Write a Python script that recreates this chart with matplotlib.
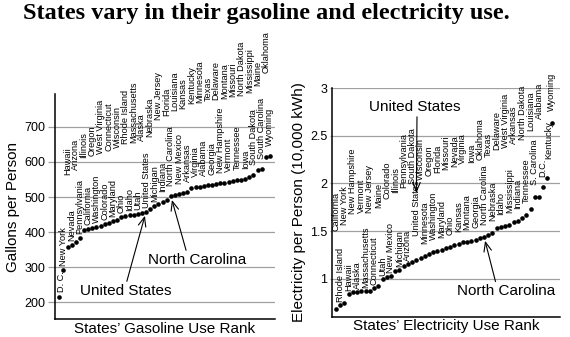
import matplotlib
matplotlib.use("Agg")
import matplotlib.pyplot as plt
from matplotlib import font_manager
import numpy as np

# Gasoline use per person (gallons), states ordered by rank
gas_states = [
    "D. C.", "New York", "Hawaii", "Nevada", "Arizona", "Pennsylvania",
    "Illinois", "California", "Oregon", "Washington", "West Virginia",
    "Colorado", "Connecticut", "Maryland", "Wisconsin", "Ohio",
    "Rhode Island", "Idaho", "Massachusetts", "Utah", "Alaska",
    "United States", "Nebraska", "Michigan", "New Jersey", "Indiana",
    "Florida", "North Carolina", "Louisiana", "New Mexico", "Kansas",
    "Arkansas", "Kentucky", "Virginia", "Minnesota", "Alabama", "Texas",
    "Georgia", "Delaware", "New Hampshire", "Montana", "Vermont",
    "Missouri", "Tennessee", "North Dakota", "Iowa", "Mississippi",
    "South Dakota", "Maine", "South Carolina", "Oklahoma", "Wyoming",
]
gas_gallons = [
    217, 293, 357, 364, 372, 383, 405, 409, 412, 415, 418,
    422, 426, 431, 435, 444, 446, 448, 450, 452, 454,
    458, 466, 474, 480, 487, 492, 503, 506, 509, 511,
    513, 527, 528, 529, 531, 533, 535, 537, 539, 541, 543,
    545, 547, 549, 551, 557, 564, 576, 580, 614, 617,
]

# Electricity use per person (10,000 kWh), states ordered by rank
elec_states = [
    "California", "Rhode Island", "New York", "Hawaii", "New Hampshire",
    "Alaska", "Vermont", "Massachusetts", "New Jersey", "Connecticut",
    "Maine", "Utah", "Colorado", "New Mexico", "Illinois", "Michigan",
    "Pennsylvania", "Arizona", "South Dakota", "United States",
    "Wisconsin", "Minnesota", "Oregon", "Washington", "Florida",
    "Maryland", "Missouri", "Ohio", "Nevada", "Kansas", "Virginia",
    "Montana", "Iowa", "Georgia", "Oklahoma", "North Carolina", "Texas",
    "Nebraska", "Delaware", "Idaho", "West Virginia", "Mississippi",
    "Arkansas", "Indiana", "North Dakota", "Tennessee", "Louisiana",
    "S. Carolina", "Alabama", "D.C.", "Kentucky", "Wyoming",
]
elec_use = [
    0.68, 0.72, 0.745, 0.84, 0.855, 0.86, 0.865, 0.87, 0.875, 0.90,
    0.92, 1.00, 1.02, 1.03, 1.08, 1.09, 1.13, 1.15, 1.18, 1.20,
    1.22, 1.24, 1.26, 1.275, 1.29, 1.30, 1.32, 1.335, 1.35, 1.365, 1.38,
    1.39, 1.40, 1.41, 1.425, 1.44, 1.46, 1.48, 1.53, 1.54, 1.55, 1.56,
    1.59, 1.61, 1.64, 1.67, 1.73, 1.86, 1.86, 1.96, 2.06, 2.64,
]

W, H, DPI = 570, 337, 100
PT = 72.0 / DPI  # points per pixel

names = {f.name for f in font_manager.fontManager.ttflist}
LABEL_FONT = "Liberation Sans Narrow" if "Liberation Sans Narrow" in names else "Liberation Sans"
plt.rcParams["font.family"] = ["Liberation Sans", "DejaVu Sans"]

fig = plt.figure(figsize=(W / DPI, H / DPI), dpi=DPI)


def axes_px(left, top, right, bottom):
    return fig.add_axes([left / W, 1 - bottom / H, (right - left) / W, (bottom - top) / H])


def style(ax, ticklen):
    for s in ("top", "right"):
        ax.spines[s].set_visible(False)
    for s in ("left", "bottom"):
        ax.spines[s].set_linewidth(1.1)
        ax.spines[s].set_color("black")
    ax.grid(axis="y", color="#a0a0a0", lw=0.9)
    ax.set_axisbelow(True)
    ax.set_xticks([])
    ax.tick_params(axis="y", length=ticklen, width=0.9, color="#a0a0a0",
                   labelsize=9, pad=2)


def label_points(ax, names_, vals, gaps, force_low=(), special=None, nudge_x=None):
    """Staggered vertical labels: even ranks sit high, odd ranks sit low.

    gaps = (split, low_before, low_after, high_before, high_after) in pixels.
    """
    split, lo1, lo2, hi1, hi2 = gaps
    special = special or {}
    nudge_x = nudge_x or {}
    for i, (n, v) in enumerate(zip(names_, vals)):
        high = (i % 2 == 0) and n not in force_low
        if high:
            gap = hi1 if i < split else hi2
        else:
            gap = lo1 if i < split else lo2
        gap = special.get(n, gap)
        ax.annotate(n, (i, v), xytext=(nudge_x.get(n, 0) * PT, gap * PT),
                    textcoords="offset points", rotation=90, ha="center",
                    va="bottom", fontsize=6.6, family=LABEL_FONT,
                    annotation_clip=False)


arrow = dict(arrowstyle="->,head_length=0.6,head_width=0.25", color="black",
             lw=0.8, shrinkA=0, shrinkB=3)

# ---- gasoline panel ----
ax1 = axes_px(55, 94, 275, 319)
style(ax1, 7 * PT)
x1 = np.arange(len(gas_gallons))
ax1.plot(x1, gas_gallons, "o", color="black", ms=3.3, mew=0)
ax1.set_xlim(-1.04, 52.23)
ax1.set_ylim(153, 793)
ax1.set_yticks([200, 300, 400, 500, 600, 700])
ax1.set_ylabel("Gallons per Person", fontsize=11, labelpad=3)
ax1.set_xlabel("States\u2019 Gasoline Use Rank", fontsize=11, labelpad=2)
label_points(ax1, gas_states, gas_gallons, (24, 4, 10, 72, 84), force_low={"D. C."},
             nudge_x={"D. C.": 2})

us1 = gas_states.index("United States")
ax1.annotate("United States", (us1, gas_gallons[us1]), xytext=(0.323, 0.124),
             textcoords="axes fraction", ha="center", va="center", fontsize=11,
             arrowprops=dict(arrow, relpos=(0.5, 1.0)))
nc1 = gas_states.index("North Carolina")
ax1.annotate("North Carolina", (nc1, gas_gallons[nc1]), xytext=(0.644, 0.262),
             textcoords="axes fraction", ha="center", va="center", fontsize=11,
             arrowprops=dict(arrow, relpos=(0.4, 1.0)))

# ---- electricity panel ----
ax2 = axes_px(332.3, 88.3, 560, 316.7)
style(ax2, 2 * PT)
x2 = np.arange(len(elec_use))
ax2.plot(x2, elec_use, "o", color="black", ms=3.3, mew=0)
ax2.set_xlim(-0.87, 52.96)
ax2.set_ylim(0.6, 3.0)
ax2.set_yticks([1, 1.5, 2, 2.5, 3])
ax2.set_yticklabels(["1", "1.5", "2", "2.5", "3"])
ax2.set_ylabel("Electricity per Person (10,000 kWh)", fontsize=11, labelpad=3)
ax2.set_xlabel("States\u2019 Electricity Use Rank", fontsize=11, labelpad=2)
label_points(ax2, elec_states, elec_use, (19, 3, 12, 78, 78),
             force_low={"Kentucky", "Wyoming"},
             special={"United States": 24, "D.C.": 10, "Kentucky": 19},
             nudge_x={"Kentucky": 1})

us2 = elec_states.index("United States")
ax2.annotate("United States", (us2, 1.9), xytext=(0.364, 0.918),
             textcoords="axes fraction", ha="center", va="center", fontsize=11,
             arrowprops=dict(arrow, relpos=(0.52, 0.0), shrinkB=0))
nc2 = elec_states.index("North Carolina")
ax2.annotate("North Carolina", (nc2, elec_use[nc2]), xytext=(0.763, 0.111),
             textcoords="axes fraction", ha="center", va="center", fontsize=11,
             arrowprops=dict(arrow, relpos=(0.4, 1.0)))

fig.text(266 / W, 1 - 19 / H, "States vary in their gasoline and electricity use.",
         ha="center", va="baseline", fontsize=17.5, fontweight="bold",
         family=["Liberation Serif", "DejaVu Serif"])

fig.savefig("out.png", dpi=DPI)
